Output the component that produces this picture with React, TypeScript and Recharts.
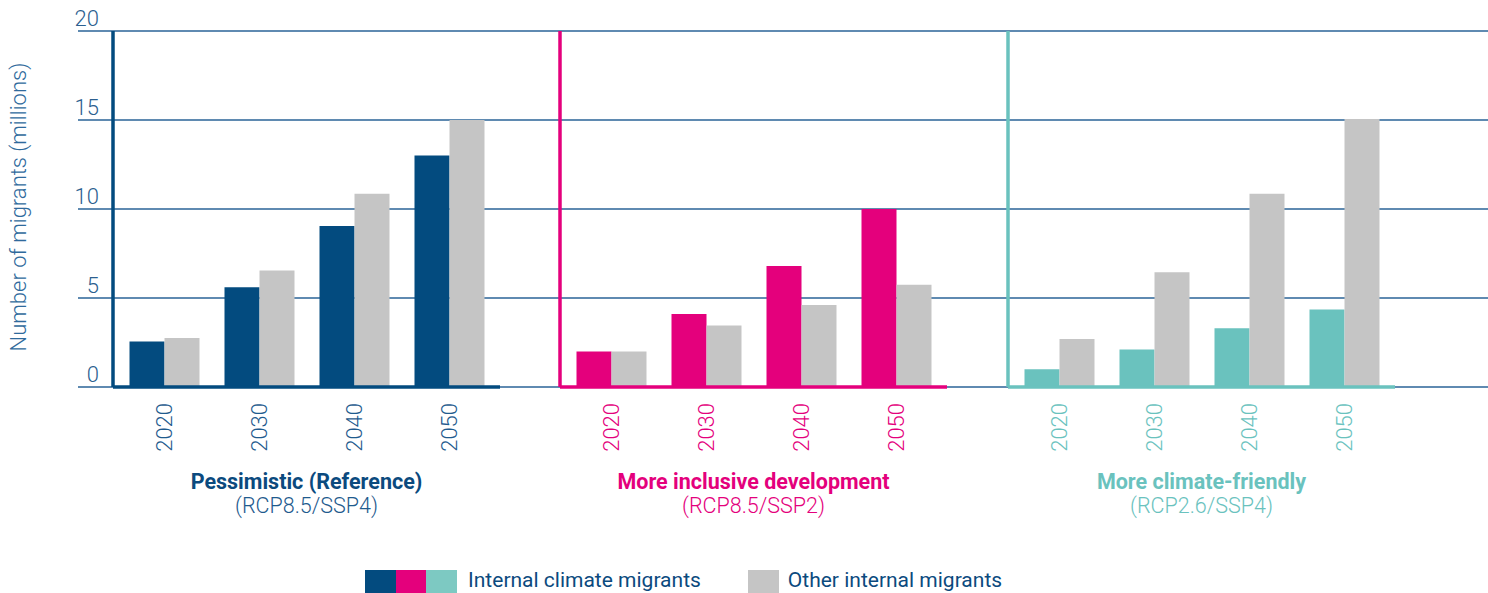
import { BarChart, Bar, XAxis, YAxis, CartesianGrid } from 'recharts';

const YEARS = ['2020', '2030', '2040', '2050'];
const Y_TICKS = [0, 5, 10, 15, 20];

// millions of migrants
const PESSIMISTIC_CLIMATE = [2.55, 5.6, 9.05, 13.0];
const PESSIMISTIC_OTHER = [2.75, 6.55, 10.85, 15.0];
const INCLUSIVE_CLIMATE = [2.0, 4.1, 6.8, 10.0];
const INCLUSIVE_OTHER = [2.0, 3.45, 4.6, 5.75];
const FRIENDLY_CLIMATE = [1.0, 2.1, 3.3, 4.35];
const FRIENDLY_OTHER = [2.7, 6.45, 10.85, 15.05];

const GREY = '#c5c5c5';
const GRID = '#2a6397';
const FONT = 'Roboto, "Open Sans", sans-serif';

const SCENARIOS = [
  { title: 'Pessimistic (Reference)', sub: '(RCP8.5/SSP4)', climate: PESSIMISTIC_CLIMATE, other: PESSIMISTIC_OTHER, color: '#034b7f', text: '#1f5b8e', head: '#0b4a7e', left: 113 },
  { title: 'More inclusive development', sub: '(RCP8.5/SSP2)', climate: INCLUSIVE_CLIMATE, other: INCLUSIVE_OTHER, color: '#e4007c', text: '#e4007c', head: '#e4007c', left: 560 },
  { title: 'More climate-friendly', sub: '(RCP2.6/SSP4)', climate: FRIENDLY_CLIMATE, other: FRIENDLY_OTHER, color: '#6ac2be', text: '#6ac2be', head: '#6ac2be', left: 1008 },
];

// background grid only needs a numeric column so the y axis gets a domain
const bgData = YEARS.map((year, i) => ({ year, v: PESSIMISTIC_OTHER[i] }));

function YTick(props: any) {
  const { x, y, payload } = props;
  return (
    <text x={x + 29} y={y - 5} textAnchor="end" fill="#2c5f8f" fontSize={22} fontWeight={300} fontFamily={FONT}>
      {payload.value}
    </text>
  );
}

function YearTick(props: any) {
  const { x, y, payload, color } = props;
  return (
    <text
      x={x}
      y={y}
      transform={`rotate(-90 ${x} ${y})`}
      textAnchor="end"
      dominantBaseline="central"
      fill={color}
      fontSize={22}
      fontWeight={300}
      fontFamily={FONT}
    >
      {payload.value}
    </text>
  );
}

function YTitle(props: any) {
  const vb = props.viewBox ?? { x: 0, y: 31, height: 356 };
  const cx = 18;
  const cy = vb.y + vb.height / 2 - 2;
  return (
    <text x={cx} y={cy} transform={`rotate(-90 ${cx} ${cy})`} textAnchor="middle" dominantBaseline="central" fill="#2f6a9c" fontSize={22} fontWeight={300} fontFamily={FONT}>
      Number of migrants (millions)
    </text>
  );
}

function Panel({ s }: { s: (typeof SCENARIOS)[number] }) {
  const data = YEARS.map((year, i) => ({ year, climate: s.climate[i], other: s.other[i] }));
  return (
    <div style={{ position: 'absolute', left: s.left - 5, top: 0 }}>
      <BarChart width={397} height={593} data={data} margin={{ top: 31, right: 5, bottom: 66, left: 0 }} barGap={0} barSize={35}>
        <XAxis
          dataKey="year"
          height={140}
          interval={0}
          padding={{ left: 3.5, right: 3.5 }}
          axisLine={{ stroke: s.color, strokeWidth: 3.5 }}
          tickLine={false}
          tickMargin={10}
          tick={(p: any) => <YearTick {...p} color={s.text} />}
        />
        <YAxis domain={[0, 20]} ticks={Y_TICKS} width={5} tick={false} tickLine={false} axisLine={{ stroke: s.color, strokeWidth: 3.5 }} />
        <Bar dataKey="climate" fill={s.color} isAnimationActive={false} />
        <Bar dataKey="other" fill={GREY} isAnimationActive={false} />
      </BarChart>
      <div style={{ position: 'absolute', left: 5, top: 470, width: 387, textAlign: 'center', fontFamily: FONT, lineHeight: '24px', color: s.text, fontSize: 21.5 }}>
        <div style={{ fontWeight: 700, color: s.head }}>{s.title}</div>
        <div style={{ fontWeight: 300 }}>{s.sub}</div>
      </div>
    </div>
  );
}

export default function App() {
  return (
    <div style={{ position: 'relative', width: 1488, height: 593, overflow: 'hidden', background: '#fff', fontFamily: FONT }}>
      <style>{'body{margin:0}'}</style>
      <div style={{ position: 'absolute', left: 0, top: 0 }}>
        <BarChart width={1488} height={593} data={bgData} margin={{ top: 31, right: 0, bottom: 206, left: 0 }}>
          <CartesianGrid vertical={false} stroke={GRID} strokeWidth={1.5} />
          <XAxis dataKey="year" hide />
          <YAxis
            dataKey="v"
            type="number"
            domain={[0, 20]}
            ticks={Y_TICKS}
            width={78}
            axisLine={false}
            tickLine={false}
            tick={<YTick />}
            label={{ content: (p: any) => <YTitle {...p} /> }}
          />
        </BarChart>
      </div>
      {SCENARIOS.map((s) => (
        <Panel key={s.title} s={s} />
      ))}
      <div style={{ position: 'absolute', left: 365, top: 570, display: 'flex', alignItems: 'flex-start', fontFamily: FONT, fontSize: 21, lineHeight: '21px', color: '#0b4a7e' }}>
        {SCENARIOS.map((s) => (
          <span key={s.title} style={{ width: 30.7, height: 31, background: s.color === '#6ac2be' ? '#7dc9c2' : s.color }} />
        ))}
        <span style={{ marginLeft: 11, marginTop: 0 }}>Internal climate migrants</span>
        <span style={{ width: 31, height: 31, background: GREY, marginLeft: 47 }} />
        <span style={{ marginLeft: 9, marginTop: 0 }}>Other internal migrants</span>
      </div>
    </div>
  );
}
